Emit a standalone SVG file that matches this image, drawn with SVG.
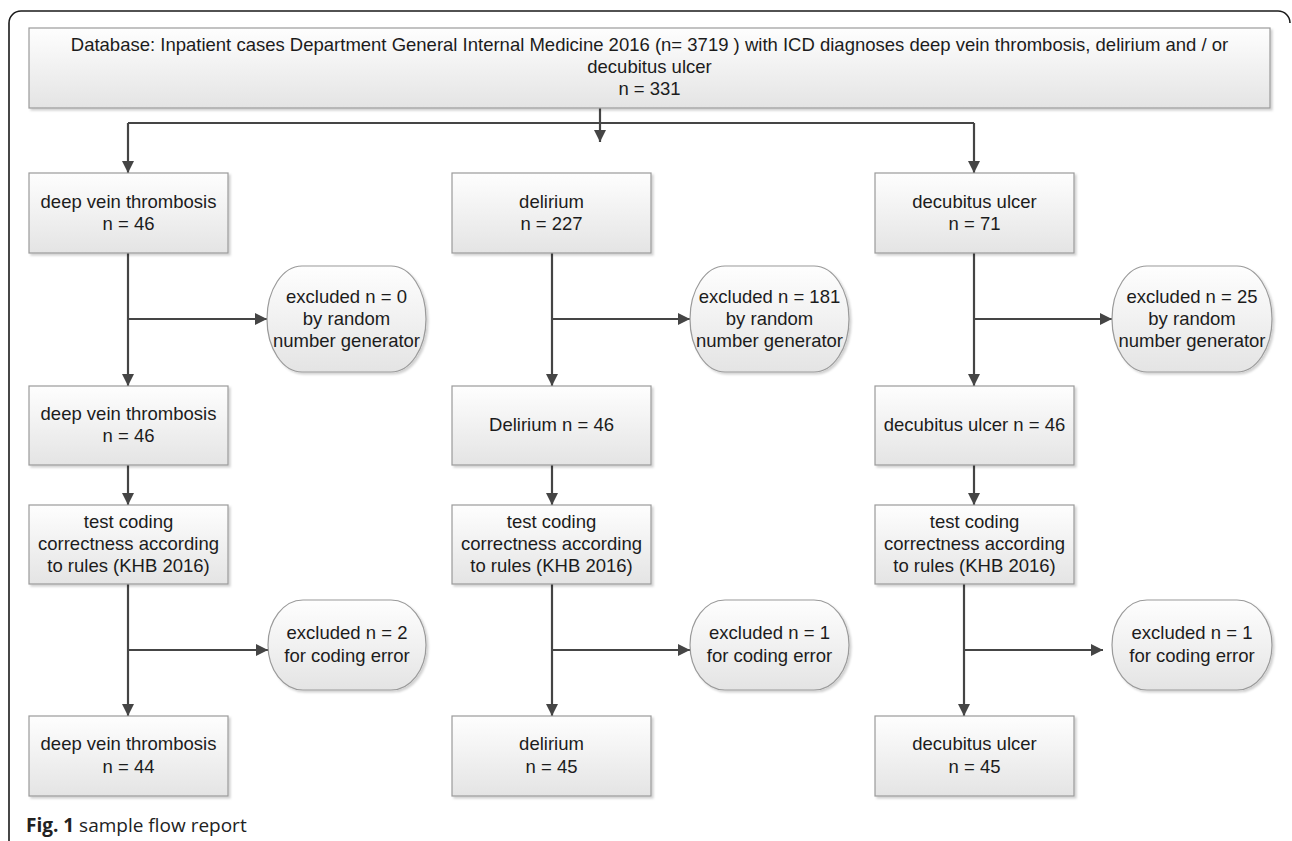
<svg xmlns="http://www.w3.org/2000/svg" width="1292" height="841" viewBox="0 0 1292 841">
<style>
.box{fill:url(#g);stroke:#9a9a9a;stroke-width:1.2;filter:url(#sh)}
.t{font-family:"Liberation Sans",Arial,sans-serif;font-size:18.5px;fill:#1c1c1c;text-anchor:middle}
.c{fill:none;stroke:#454545;stroke-width:2.2}
.a{marker-end:url(#ah)}
.cap{font-family:"Open Sans","Noto Sans",sans-serif;font-size:19px;fill:#222}
</style>
<defs>
<linearGradient id="g" x1="0" y1="0" x2="0" y2="1">
<stop offset="0" stop-color="#fefefe"/>
<stop offset="1" stop-color="#e4e4e4"/>
</linearGradient>
<filter id="sh" x="-5%" y="-5%" width="115%" height="120%">
<feDropShadow dx="2" dy="2" stdDeviation="1" flood-color="#000" flood-opacity="0.18"/>
</filter>
<marker id="ah" markerUnits="userSpaceOnUse" markerWidth="12" markerHeight="12" refX="12" refY="6" orient="auto">
<path d="M0,0 L12,6 L0,12 z" fill="#454545"/>
</marker>
</defs>
<rect width="1292" height="841" fill="#fff"/>
<path d="M9,841 V23 A12,12 0 0 1 21,11 H1278 A12,12 0 0 1 1290,23" fill="none" stroke="#1a1a1a" stroke-width="1.6"/>

<g id="connectors">
<path class="c a" d="M600,108 V142"/>
<path class="c" d="M128,123 H974"/>
<path class="c a" d="M128,123 V173"/>
<path class="c a" d="M974,123 V173"/>

<path class="c a" d="M128,253 V386"/>
<path class="c a" d="M128,319 H267"/>
<path class="c a" d="M128,465 V505"/>
<path class="c a" d="M128,584 V716"/>
<path class="c a" d="M128,650 H268"/>

<path class="c a" d="M552,253 V386"/>
<path class="c a" d="M552,319 H690"/>
<path class="c a" d="M552,465 V505"/>
<path class="c a" d="M552,584 V716"/>
<path class="c a" d="M552,650 H690"/>

<path class="c a" d="M974,253 V386"/>
<path class="c a" d="M974,319 H1112"/>
<path class="c a" d="M974,465 V505"/>
<path class="c a" d="M964,584 V716"/>
<path class="c a" d="M964,650 H1103"/>
</g>

<g id="n-top">
<rect class="box" x="29" y="28" width="1241" height="80"/>
<text class="t" x="649.5" y="51">Database: Inpatient cases Department General Internal Medicine 2016 (n= 3719 ) with ICD diagnoses deep vein thrombosis, delirium and / or</text>
<text class="t" x="649.5" y="73">decubitus ulcer</text>
<text class="t" x="649.5" y="95">n = 331</text>
</g>

<g id="n-dvt1">
<rect class="box" x="29" y="173" width="199" height="80"/>
<text class="t" x="128.5" y="208">deep vein thrombosis</text>
<text class="t" x="128.5" y="230">n = 46</text>
</g>
<g id="n-del1">
<rect class="box" x="452" y="173" width="199" height="80"/>
<text class="t" x="551.5" y="208">delirium</text>
<text class="t" x="551.5" y="230">n = 227</text>
</g>
<g id="n-dec1">
<rect class="box" x="875" y="173" width="199" height="80"/>
<text class="t" x="974.5" y="208">decubitus ulcer</text>
<text class="t" x="974.5" y="230">n = 71</text>
</g>

<g id="n-exA1">
<rect class="box" x="267" y="266" width="159" height="106" rx="35" ry="53"/>
<text class="t" x="346.5" y="303">excluded n = 0</text>
<text class="t" x="346.5" y="325">by random</text>
<text class="t" x="346.5" y="347">number generator</text>
</g>
<g id="n-exB1">
<rect class="box" x="690" y="266" width="159" height="106" rx="35" ry="53"/>
<text class="t" x="769.5" y="303">excluded n = 181</text>
<text class="t" x="769.5" y="325">by random</text>
<text class="t" x="769.5" y="347">number generator</text>
</g>
<g id="n-exC1">
<rect class="box" x="1112" y="266" width="160" height="106" rx="35" ry="53"/>
<text class="t" x="1192" y="303">excluded n = 25</text>
<text class="t" x="1192" y="325">by random</text>
<text class="t" x="1192" y="347">number generator</text>
</g>

<g id="n-dvt2">
<rect class="box" x="29" y="386" width="199" height="79"/>
<text class="t" x="128.5" y="420">deep vein thrombosis</text>
<text class="t" x="128.5" y="442">n = 46</text>
</g>
<g id="n-del2">
<rect class="box" x="452" y="386" width="199" height="79"/>
<text class="t" x="551.5" y="431">Delirium n = 46</text>
</g>
<g id="n-dec2">
<rect class="box" x="875" y="386" width="199" height="79"/>
<text class="t" x="974.5" y="431">decubitus ulcer n = 46</text>
</g>

<g id="n-testA">
<rect class="box" x="29" y="505" width="199" height="79"/>
<text class="t" x="128.5" y="528">test coding</text>
<text class="t" x="128.5" y="550">correctness according</text>
<text class="t" x="128.5" y="572">to rules (KHB 2016)</text>
</g>
<g id="n-testB">
<rect class="box" x="452" y="505" width="199" height="79"/>
<text class="t" x="551.5" y="528">test coding</text>
<text class="t" x="551.5" y="550">correctness according</text>
<text class="t" x="551.5" y="572">to rules (KHB 2016)</text>
</g>
<g id="n-testC">
<rect class="box" x="875" y="505" width="199" height="79"/>
<text class="t" x="974.5" y="528">test coding</text>
<text class="t" x="974.5" y="550">correctness according</text>
<text class="t" x="974.5" y="572">to rules (KHB 2016)</text>
</g>

<g id="n-exA2">
<rect class="box" x="268" y="600" width="158" height="90" rx="35" ry="45"/>
<text class="t" x="347" y="639">excluded n = 2</text>
<text class="t" x="347" y="662">for coding error</text>
</g>
<g id="n-exB2">
<rect class="box" x="690" y="600" width="159" height="90" rx="35" ry="45"/>
<text class="t" x="769.5" y="639">excluded n = 1</text>
<text class="t" x="769.5" y="662">for coding error</text>
</g>
<g id="n-exC2">
<rect class="box" x="1112" y="600" width="160" height="90" rx="35" ry="45"/>
<text class="t" x="1192" y="639">excluded n = 1</text>
<text class="t" x="1192" y="662">for coding error</text>
</g>

<g id="n-dvt3">
<rect class="box" x="29" y="716" width="199" height="80"/>
<text class="t" x="128.5" y="750">deep vein thrombosis</text>
<text class="t" x="128.5" y="773">n = 44</text>
</g>
<g id="n-del3">
<rect class="box" x="452" y="716" width="199" height="80"/>
<text class="t" x="551.5" y="750">delirium</text>
<text class="t" x="551.5" y="773">n = 45</text>
</g>
<g id="n-dec3">
<rect class="box" x="875" y="716" width="199" height="80"/>
<text class="t" x="974.5" y="750">decubitus ulcer</text>
<text class="t" x="974.5" y="773">n = 45</text>
</g>

<text class="cap" x="26" y="832"><tspan font-weight="bold">Fig. 1</tspan> sample flow report</text>
</svg>
